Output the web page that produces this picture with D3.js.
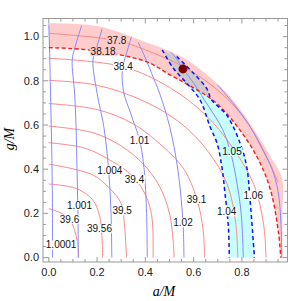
<!DOCTYPE html>
<html>
<head>
<meta charset="utf-8">
<script src="https://cdn.jsdelivr.net/npm/d3@7"></script>
<style>
  body { margin: 0; background: #fff; }
  svg { display: block; }
</style>
</head>
<body>
<svg id="chart" width="306" height="301"></svg>
<script>
// --- Data, points are [a/M, g/M] ---
const xTickLabels = ["0.0", "0.2", "0.4", "0.6", "0.8"];
const yTickLabels = ["0.0", "0.2", "0.4", "0.6", "0.8", "1.0"];

// red contours, inner to outer
const red39_6 = [[0, 0.222], [0.058, 0.197], [0.09, 0.165], [0.108, 0.12], [0.118, 0.07], [0.123, 0.02], [0.124, 0]];
const red39_56 = [[0, 0.333], [0.113, 0.313], [0.183, 0.26], [0.21, 0.19], [0.22, 0.1], [0.223, 0]];
const red39_5 = [[0, 0.423], [0.183, 0.374], [0.252, 0.313], [0.3, 0.245], [0.314, 0.14], [0.322, 0]];
const red39_4 = [[0, 0.52], [0.15, 0.495], [0.252, 0.442], [0.335, 0.381], [0.39, 0.306], [0.425, 0.2], [0.432, 0]];
const redC5 = [[0, 0.595], [0.183, 0.565], [0.3, 0.505], [0.39, 0.425], [0.46, 0.32], [0.5, 0.2], [0.515, 0.08], [0.519, 0]];
const red39_1 = [[0, 0.697], [0.2, 0.67], [0.35, 0.605], [0.47, 0.505], [0.56, 0.4], [0.614, 0.263], [0.64, 0.12], [0.645, 0]];
const redC7 = [[0, 0.802], [0.2, 0.78], [0.4, 0.705], [0.55, 0.605], [0.66, 0.48], [0.74, 0.33], [0.775, 0.15], [0.783, 0]];
const red38_4 = [[0, 0.902], [0.307, 0.864], [0.5, 0.77], [0.65, 0.645], [0.76, 0.5], [0.85, 0.33], [0.89, 0.15], [0.9, 0]];
const red38_18 = [[0, 0.95], [0.17, 0.939], [0.403, 0.887], [0.502, 0.827], [0.585, 0.777], [0.689, 0.704], [0.79, 0.58], [0.87, 0.44], [0.92, 0.3], [0.952, 0.11], [0.961, 0]];
const red37_8 = [[0, 1.015], [0.281, 0.982], [0.419, 0.932], [0.557, 0.864], [0.68, 0.775], [0.765, 0.69], [0.85, 0.565], [0.91, 0.44], [0.95, 0.34]];
const outerEdge = [[0, 1.061], [0.2, 1.048], [0.4, 0.976], [0.557, 0.905], [0.696, 0.789], [0.765, 0.71], [0.85, 0.58], [0.917, 0.46], [0.966, 0.36], [0.968, 0.2], [0.968, 0]];

// blue contours
const blue1_0001 = [[0, 1.055], [0.003, 0.95], [0.008, 0.7], [0.012, 0.5], [0.015, 0.25], [0.015, 0]];
const blue1_001 = [[0.136, 1.05], [0.108, 0.95], [0.097, 0.894], [0.107, 0.744], [0.113, 0.592], [0.117, 0.396], [0.121, 0.2], [0.122, 0]];
const blue1_004 = [[0.221, 1.035], [0.198, 0.95], [0.183, 0.894], [0.2, 0.744], [0.228, 0.592], [0.248, 0.396], [0.258, 0.2], [0.261, 0]];
const blue1_01 = [[0.343, 1.0], [0.329, 0.95], [0.305, 0.85], [0.31, 0.75], [0.34, 0.65], [0.376, 0.532], [0.395, 0.4], [0.405, 0.2], [0.408, 0]];
const blue1_02 = [[0.37, 0.975], [0.385, 0.94], [0.404, 0.894], [0.426, 0.834], [0.459, 0.744], [0.501, 0.592], [0.535, 0.396], [0.556, 0.158], [0.56, 0]];
const blue1_05 = [[0.505, 0.93], [0.527, 0.903], [0.556, 0.854], [0.6, 0.79], [0.645, 0.713], [0.72, 0.58], [0.752, 0.48], [0.775, 0.366], [0.797, 0.2], [0.806, 0]];
const blueOuter = [[0.7, 0.78], [0.77, 0.69], [0.83, 0.6], [0.88, 0.5], [0.925, 0.4], [0.95, 0.3], [0.962, 0.15], [0.965, 0]];
const blue1_04 = [[0.47, 0.94], [0.516, 0.857], [0.571, 0.789], [0.627, 0.713], [0.668, 0.592], [0.697, 0.518], [0.717, 0.411], [0.73, 0.291], [0.744, 0.139], [0.748, 0]];
const blue1_06 = [[0.53, 0.91], [0.598, 0.836], [0.654, 0.766], [0.675, 0.713], [0.737, 0.645], [0.793, 0.517], [0.82, 0.411], [0.834, 0.26], [0.852, 0]];

const bestFit = [0.556, 0.854];

const labelTexts = ["37.8", "38.18", "38.4", "1.01", "1.004", "39.4", "1.001", "39.5", "39.6", "39.56", "1.0001", "39.1", "1.02", "1.05", "1.04", "1.06"];
const labelSpots = [[0.281, 0.982], [0.225, 0.932], [0.308, 0.864], [0.376, 0.532], [0.253, 0.396], [0.355, 0.354], [0.127, 0.235], [0.304, 0.212], [0.086, 0.174], [0.21, 0.132], [0.051, 0.057], [0.612, 0.264], [0.556, 0.158], [0.759, 0.48], [0.737, 0.207], [0.847, 0.283]];

// --- Setup ---
const svg = d3.select("#chart");
const x = d3.scaleLinear().domain([-0.024, 0.989]).range([43, 287.5]);
const y = d3.scaleLinear().domain([-0.02, 1.082]).range([262, 18.5]);

const PINK = "#ffcccc", CYAN = "#c8ffff", GREY = "#d0c9c9";
const smooth = d3.line().x(d => x(d[0])).y(d => y(d[1])).curve(d3.curveCatmullRom.alpha(0.5));

function bandPath(a, b) {
    // a forwards, b backwards, joined into one closed shape
    return smooth(a) + smooth([...b].reverse()).replace(/^M/, "L") + "Z";
}

const pinkD = bandPath(outerEdge, red38_18);
const cyanD = bandPath(blue1_04, blue1_06);

svg.append("clipPath").attr("id", "pinkClip").append("path").attr("d", pinkD);

svg.append("path").attr("d", pinkD).attr("fill", PINK);
svg.append("path").attr("d", cyanD).attr("fill", CYAN);
svg.append("path").attr("d", cyanD).attr("fill", GREY).attr("clip-path", "url(#pinkClip)");

// --- Contour lines ---
const redSolid = [red39_6, red39_56, red39_5, red39_4, redC5, red39_1, redC7, red38_4, red37_8];
svg.append("g").selectAll("path").data(redSolid).enter().append("path")
    .attr("d", smooth).attr("fill", "none").attr("stroke", "#ff8888").attr("stroke-width", 1);

const blueSolid = [blue1_0001, blue1_001, blue1_004, blue1_01, blue1_02, blue1_05, blueOuter];
svg.append("g").selectAll("path").data(blueSolid).enter().append("path")
    .attr("d", smooth).attr("fill", "none").attr("stroke", "#8888ff").attr("stroke-width", 1);

svg.append("path").attr("d", smooth(red38_18)).attr("fill", "none")
    .attr("stroke", "#ff1a1a").attr("stroke-width", 1.4).attr("stroke-dasharray", "4,2.5");

svg.append("g").selectAll("path").data([blue1_04, blue1_06]).enter().append("path")
    .attr("d", smooth).attr("fill", "none")
    .attr("stroke", "#1010ff").attr("stroke-width", 1.5).attr("stroke-dasharray", "4,3");

// --- Contour labels, with a background matching the region ---
const pinkPoly = outerEdge.concat([...red38_18].reverse()).map(p => [x(p[0]), y(p[1])]);
const cyanPoly = blue1_04.concat([...blue1_06].reverse()).map(p => [x(p[0]), y(p[1])]);

const labels = svg.append("g");
labelTexts.forEach((t, i) => {
    const px = x(labelSpots[i][0]), py = y(labelSpots[i][1]);
    const inPink = d3.polygonContains(pinkPoly, [px, py]);
    const inCyan = d3.polygonContains(cyanPoly, [px, py]);
    const bg = inPink && inCyan ? GREY : inPink ? PINK : inCyan ? CYAN : "#fff";
    const g = labels.append("g");
    const txt = g.append("text").attr("x", px).attr("y", py).attr("dy", "0.35em")
        .attr("text-anchor", "middle")
        .style("font-family", "'Liberation Sans', Arial, sans-serif").style("font-size", "10px")
        .attr("fill", "#111").text(t);
    const bb = txt.node().getBBox();
    g.insert("rect", "text").attr("x", bb.x - 0.5).attr("y", bb.y + 1).attr("width", bb.width + 1).attr("height", bb.height - 2).attr("fill", bg);
});

// --- Best fit point ---
svg.append("circle").attr("cx", x(bestFit[0])).attr("cy", y(bestFit[1])).attr("r", 4.5).attr("fill", "#7a0000");

// --- Frame, ticks, labels ---
const frame = svg.append("g");
const [x0, x1] = x.range(), [y0, y1] = y.range();
frame.append("rect").attr("x", x0).attr("y", y1).attr("width", x1 - x0).attr("height", y0 - y1)
    .attr("fill", "none").attr("stroke", "#999").attr("stroke-width", 1);

const minor = d3.range(0, 1.0, 0.05);
const minorY = d3.range(0, 1.1, 0.05);
minor.forEach((v, i) => {
    const len = i % 4 === 0 ? 5 : 3;
    frame.append("line").attr("x1", x(v)).attr("x2", x(v)).attr("y1", y0).attr("y2", y0 - len).attr("stroke", "#999");
    frame.append("line").attr("x1", x(v)).attr("x2", x(v)).attr("y1", y1).attr("y2", y1 + len).attr("stroke", "#999");
});
minorY.forEach((v, i) => {
    const len = i % 4 === 0 ? 5 : 3;
    frame.append("line").attr("y1", y(v)).attr("y2", y(v)).attr("x1", x0).attr("x2", x0 + len).attr("stroke", "#999");
    frame.append("line").attr("y1", y(v)).attr("y2", y(v)).attr("x1", x1).attr("x2", x1 - len).attr("stroke", "#999");
});

xTickLabels.forEach(t => {
    frame.append("text").attr("x", x(+t)).attr("y", y0 + 14).attr("text-anchor", "middle")
        .style("font-family", "'Liberation Sans', Arial, sans-serif").style("font-size", "11px")
        .attr("fill", "#222").text(t);
});
yTickLabels.forEach(t => {
    frame.append("text").attr("x", x0 - 4).attr("y", y(+t)).attr("dy", "0.35em").attr("text-anchor", "end")
        .style("font-family", "'Liberation Sans', Arial, sans-serif").style("font-size", "11px")
        .attr("fill", "#222").text(t);
});

svg.append("text").attr("x", 164).attr("y", 296).attr("text-anchor", "middle")
    .style("font-family", "'Liberation Serif', 'Times New Roman', serif").style("font-style", "italic").style("font-size", "14px")
    .text("a/M");
svg.append("text").attr("transform", "translate(14,139) rotate(-90)").attr("text-anchor", "middle")
    .style("font-family", "'Liberation Serif', 'Times New Roman', serif").style("font-style", "italic").style("font-size", "14px")
    .text("g/M");
</script>
</body>
</html>
